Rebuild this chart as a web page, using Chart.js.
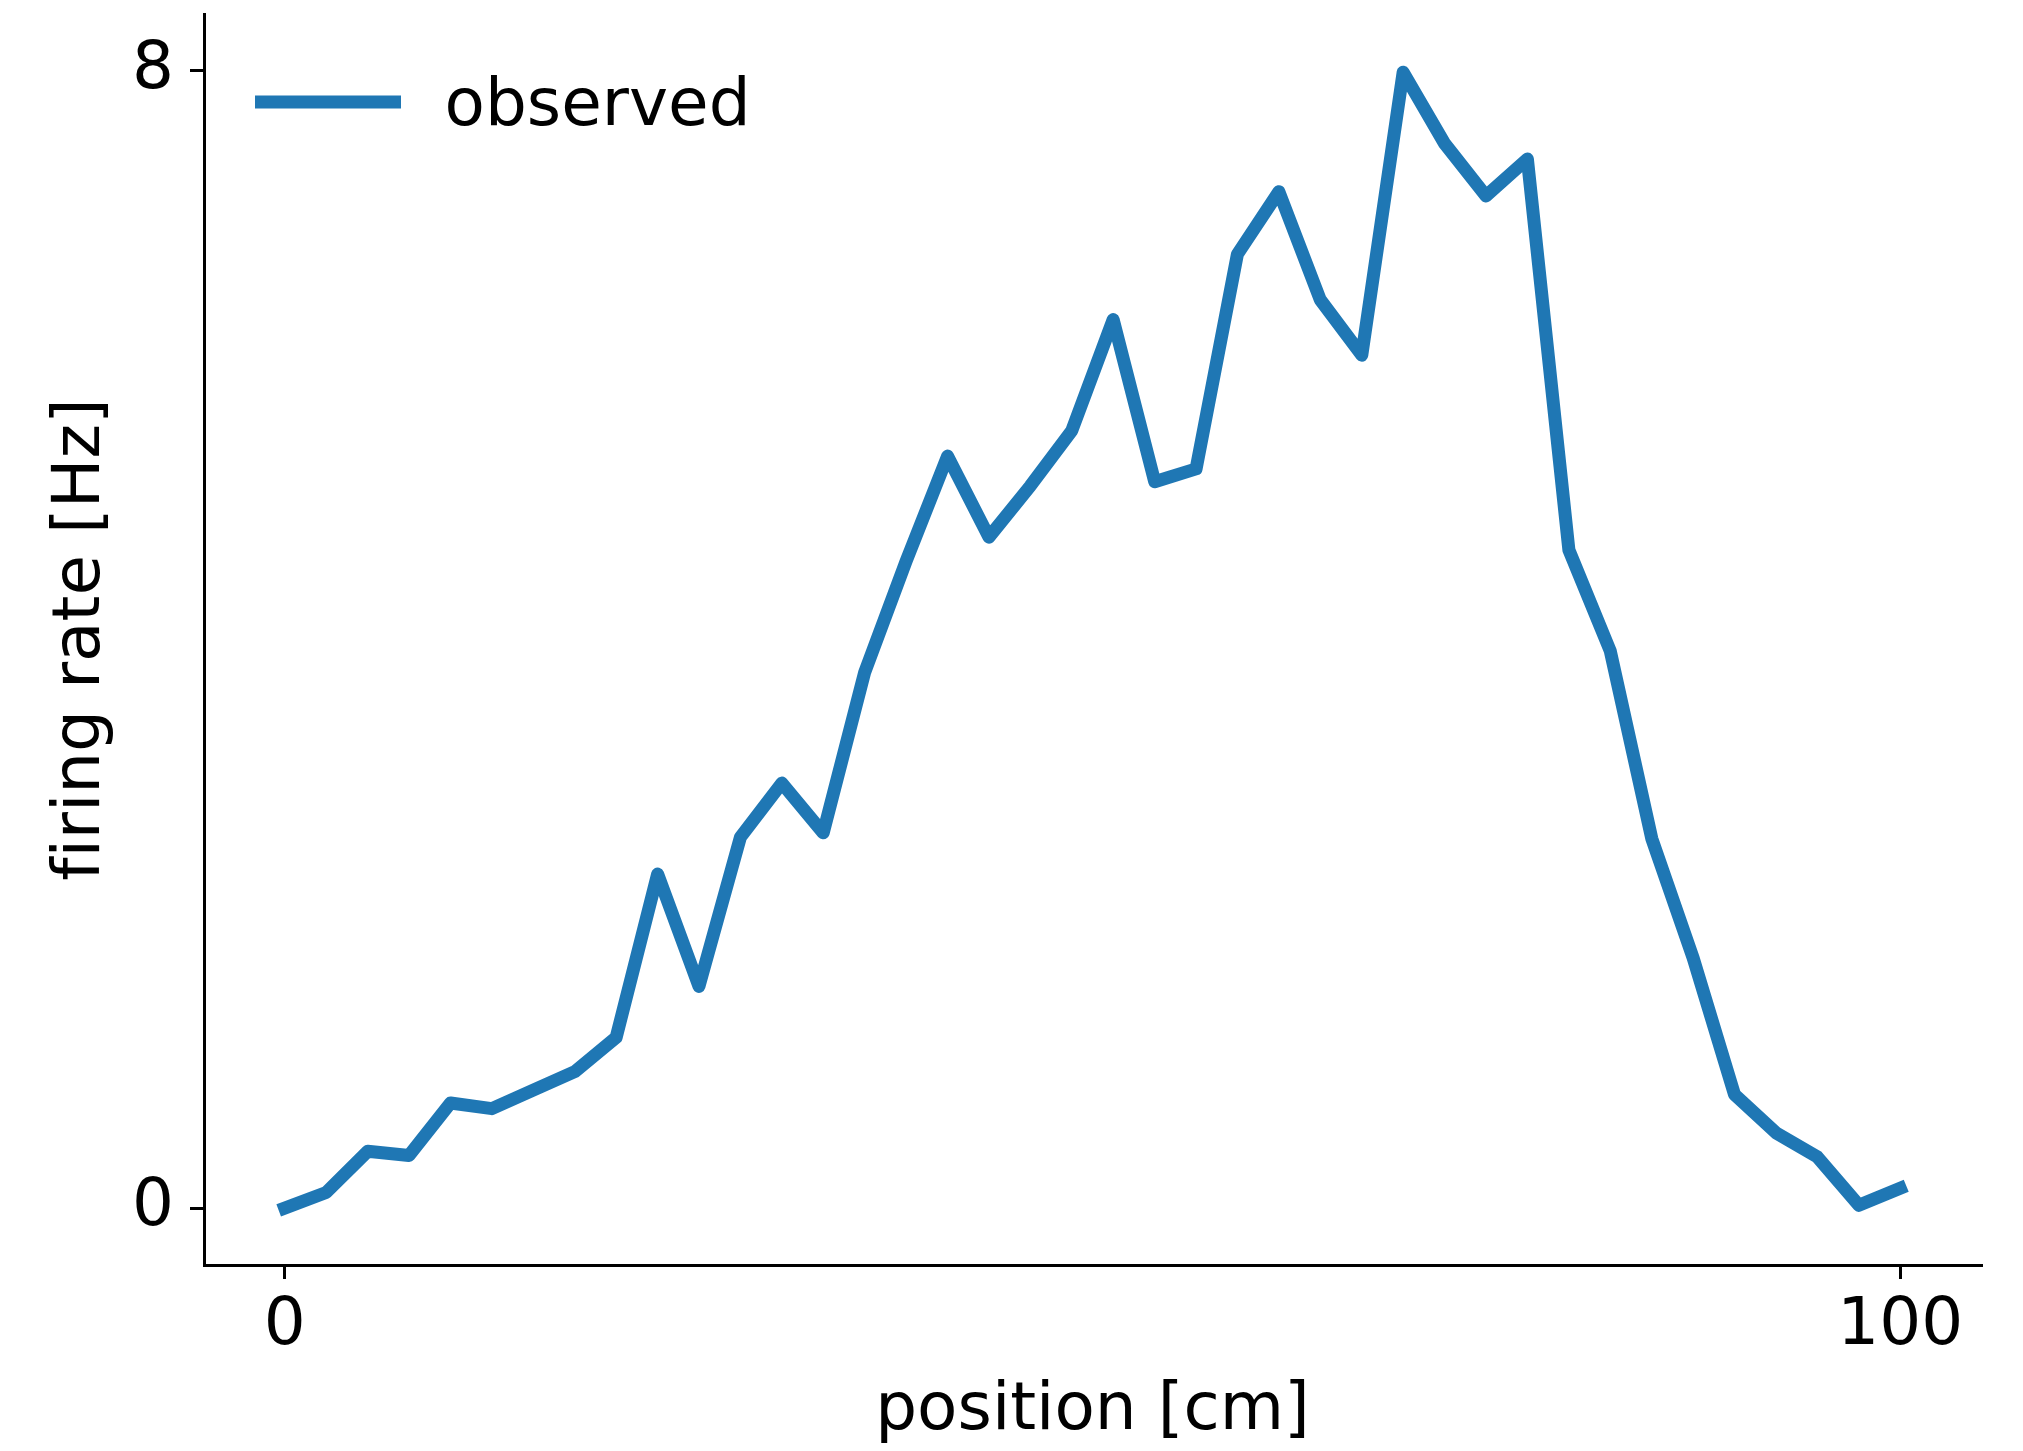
<!DOCTYPE html>
<html>
<head>
<meta charset="utf-8">
<script src="https://cdn.jsdelivr.net/npm/chart.js@4.4.1/dist/chart.umd.min.js"></script>
<style>
html, body { margin: 0; padding: 0; background: #ffffff; }
canvas { display: block; }
</style>
</head>
<body>
<canvas id="chart" width="2023" height="1451"></canvas>
<script>
// ---- data ----
const positions = [0.00, 2.56, 5.13, 7.69, 10.26, 12.82, 15.38, 17.95, 20.51, 23.08,
                   25.64, 28.21, 30.77, 33.33, 35.90, 38.46, 41.03, 43.59, 46.15, 48.72,
                   51.28, 53.85, 56.41, 58.97, 61.54, 64.10, 66.67, 69.23, 71.79, 74.36,
                   76.92, 79.49, 82.05, 84.62, 87.18, 89.74, 92.31, 94.87, 97.44, 100.00];
const firingRate = [0.00, 0.11, 0.40, 0.37, 0.74, 0.70, 0.83, 0.96, 1.20, 2.35,
                    1.56, 2.61, 2.99, 2.64, 3.77, 4.55, 5.29, 4.72, 5.08, 5.47,
                    6.25, 5.11, 5.20, 6.71, 7.15, 6.39, 6.00, 7.99, 7.49, 7.12,
                    7.38, 4.63, 3.92, 2.60, 1.76, 0.80, 0.53, 0.36, 0.02, 0.14];
const xTicks = [0, 100];
const yTicks = [0, 8];
const seriesLabel = 'observed';
const xTitle = 'position [cm]';
const yTitle = 'firing rate [Hz]';

const FONT = '"DejaVu Sans", "Liberation Sans", sans-serif';
const FS = 66;
Chart.defaults.font.family = FONT;
Chart.defaults.color = '#000000';

// matplotlib does not form typographic ligatures (e.g. "fi"); a tiny letter
// spacing makes the browser skip them too.
const noLigaturePlugin = {
  id: 'noLigatures',
  beforeDraw(chart) {
    if ('letterSpacing' in chart.ctx) chart.ctx.letterSpacing = '0.01px';
  }
};

const legendPlugin = {
  id: 'mplLegend',
  afterDatasetsDraw(chart) {
    const { ctx, chartArea } = chart;
    const ds = chart.data.datasets[0];
    ctx.save();
    ctx.strokeStyle = ds.borderColor;
    ctx.lineWidth = ds.borderWidth;
    ctx.lineCap = 'butt';
    const ly = chartArea.top + 88;
    ctx.beginPath();
    ctx.moveTo(chartArea.left + 51, ly);
    ctx.lineTo(chartArea.left + 197, ly);
    ctx.stroke();
    ctx.fillStyle = '#000000';
    ctx.font = FS + 'px ' + FONT;
    ctx.textAlign = 'left';
    ctx.textBaseline = 'alphabetic';
    ctx.fillText(ds.label, chartArea.left + 240.5, chartArea.top + 111);
    ctx.restore();
  }
};

new Chart(document.getElementById('chart'), {
  type: 'line',
  data: {
    datasets: [{
      label: seriesLabel,
      data: positions.map((x, i) => ({ x: x, y: firingRate[i] })),
      borderColor: '#1f77b4',
      backgroundColor: '#1f77b4',
      borderWidth: 13,
      borderCapStyle: 'square',
      borderJoinStyle: 'round',
      pointRadius: 0,
      pointHoverRadius: 0,
      tension: 0,
      fill: false
    }]
  },
  options: {
    responsive: false,
    animation: false,
    devicePixelRatio: 1,
    layout: { padding: { top: 14, right: 42, left: 0, bottom: 0 } },
    plugins: {
      legend: { display: false },
      tooltip: { enabled: false }
    },
    scales: {
      x: {
        type: 'linear',
        min: -5,
        max: 105,
        afterBuildTicks: (axis) => { axis.ticks = xTicks.map(v => ({ value: v })); },
        afterFit: (axis) => {
          axis.height = 186;
          axis.paddingLeft = 0; axis.paddingRight = 0;
        },
        ticks: {
          callback: (v) => String(v),
          font: { size: FS },
          color: '#000000',
          padding: 8,
          maxRotation: 0,
          autoSkip: false
        },
        grid: {
          display: true,
          drawOnChartArea: false,
          drawTicks: true,
          tickLength: 14,
          tickWidth: 3,
          tickColor: '#000000',
          color: '#000000',
          lineWidth: 3
        },
        border: { display: true, color: '#000000', width: 3 },
        title: {
          display: true,
          text: xTitle,
          font: { size: FS },
          color: '#000000',
          padding: { top: 0, bottom: 0 }
        }
      },
      y: {
        type: 'linear',
        min: -0.4,
        max: 8.4,
        afterBuildTicks: (axis) => { axis.ticks = yTicks.map(v => ({ value: v })); },
        afterFit: (axis) => {
          axis.width = 204;
          axis.paddingTop = 0; axis.paddingBottom = 0;
        },
        ticks: {
          callback: (v) => String(v),
          font: { size: FS },
          color: '#000000',
          padding: 16,
          autoSkip: false
        },
        grid: {
          display: true,
          drawOnChartArea: false,
          drawTicks: true,
          tickLength: 14,
          tickWidth: 3,
          tickColor: '#000000',
          color: '#000000',
          lineWidth: 3
        },
        border: { display: true, color: '#000000', width: 3 },
        title: {
          display: true,
          text: yTitle,
          font: { size: FS },
          color: '#000000',
          padding: { top: 42, bottom: 0 }
        }
      }
    }
  },
  plugins: [noLigaturePlugin, legendPlugin]
});
</script>
</body>
</html>
